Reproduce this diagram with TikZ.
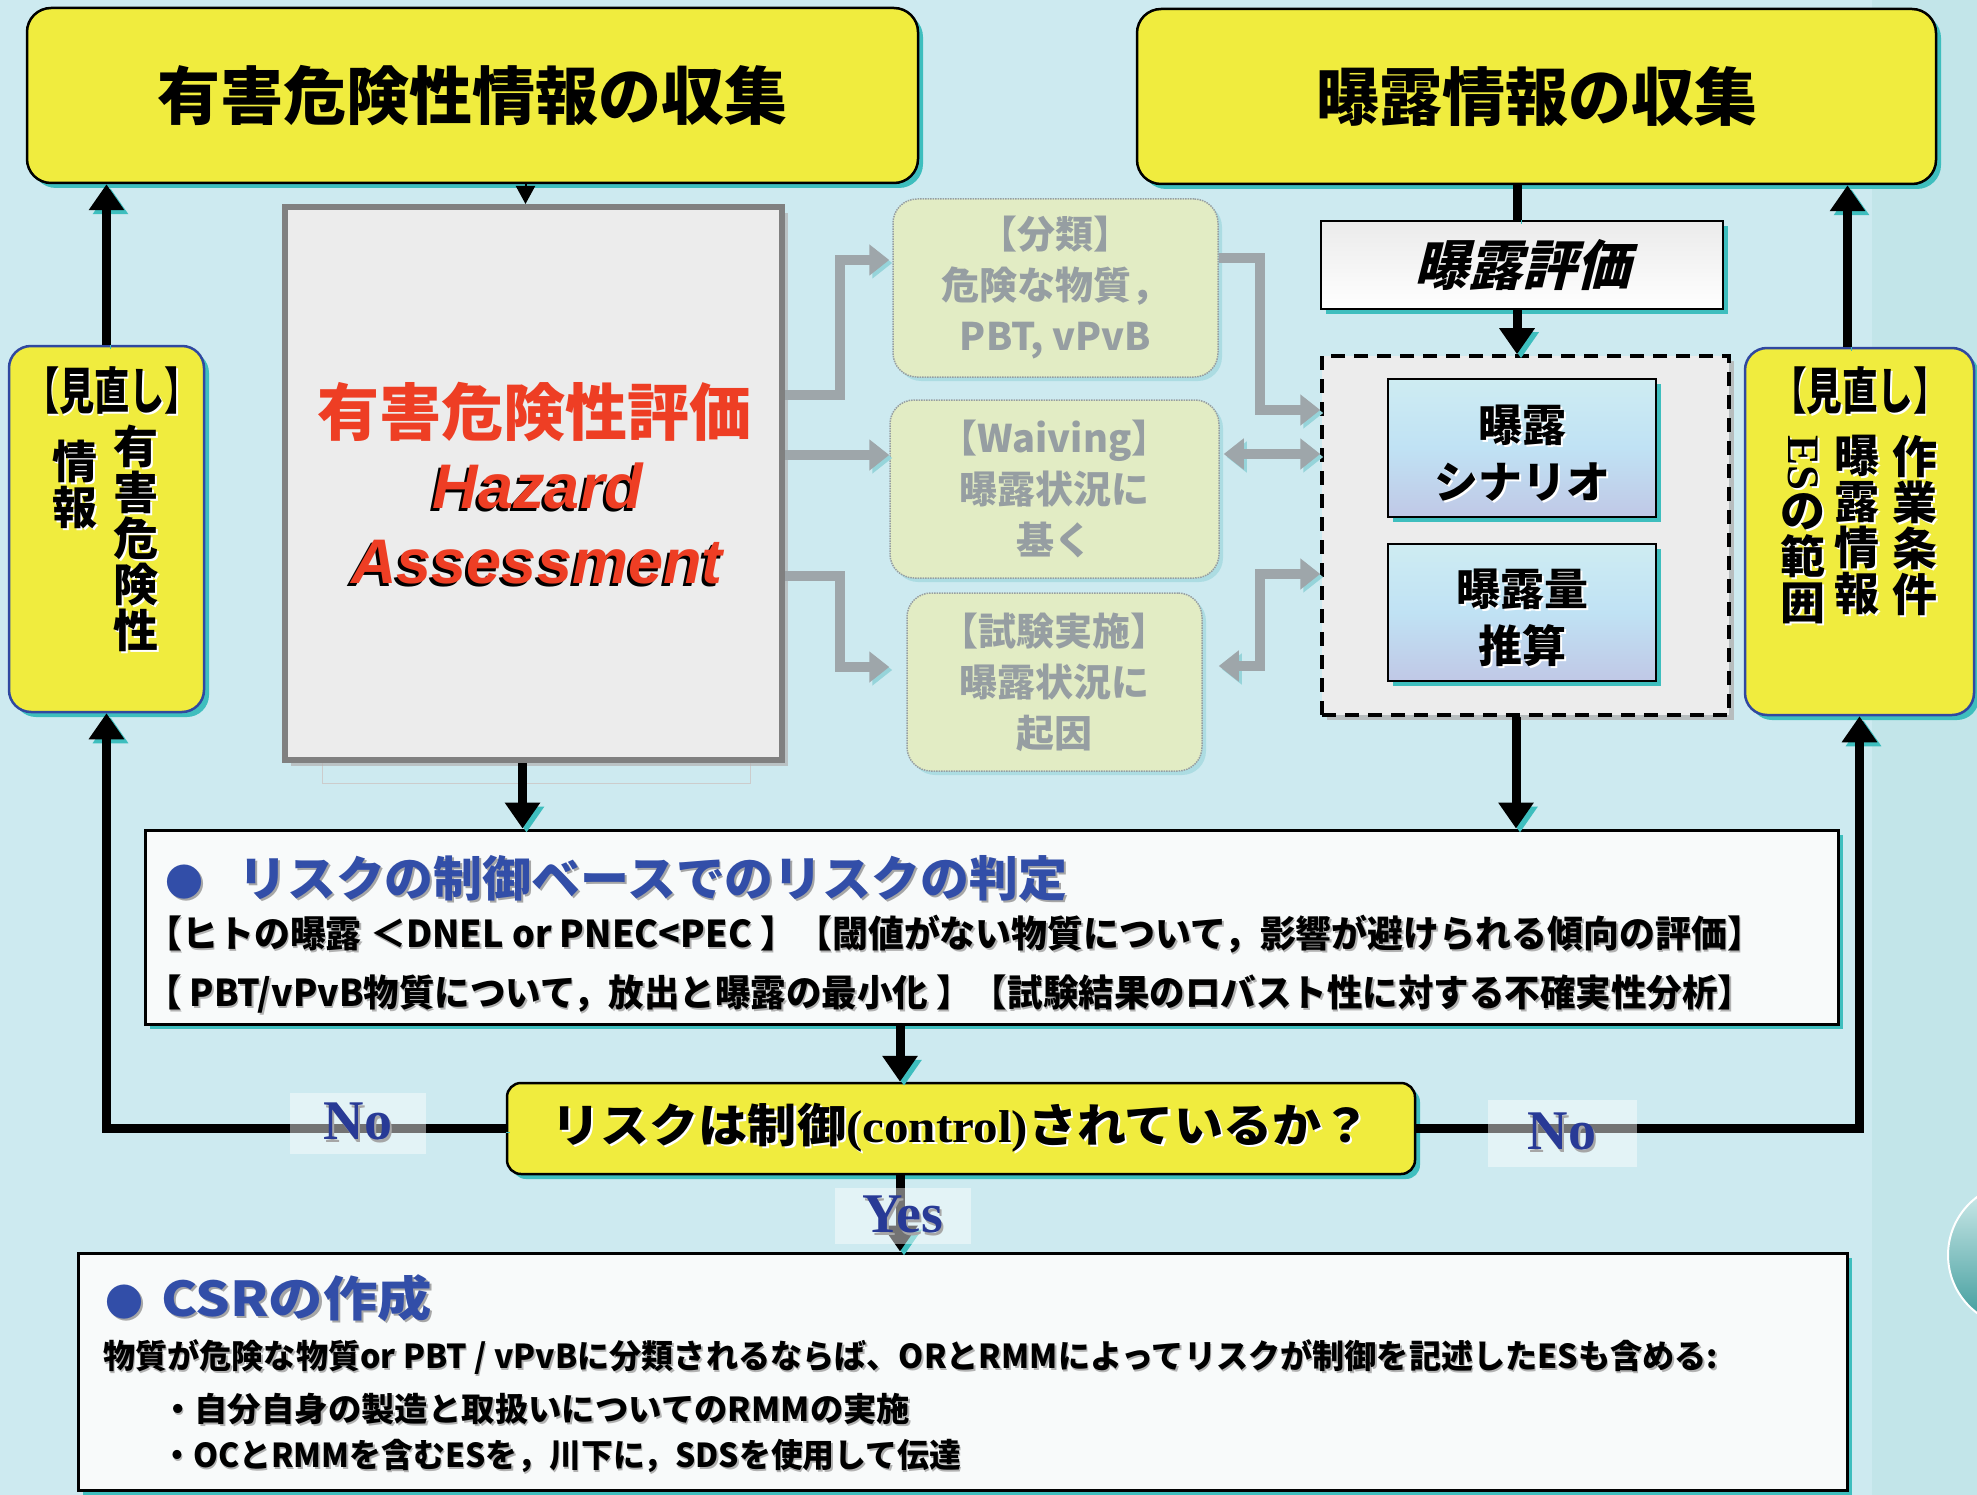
\documentclass[tikz,border=0pt]{standalone}
\usepackage{fontspec}
\usepackage{graphicx}
\newfontfamily\jp{Noto Sans CJK JP}
\newfontfamily\jpsl{Noto Sans CJK JP}[FakeSlant=0.25]
\newfontfamily\serifb{Liberation Serif}
\newfontfamily\sansb{Liberation Sans}
\usetikzlibrary{arrows.meta,shadows}
\newcommand\fs[2]{\fontsize{#1}{#2}\selectfont}
\newcommand\shd[4]{\leavevmode\rlap{\kern#2\raisebox{-#3}{\textcolor{#1}{#4}}}#4}
\newcommand\ws[1]{\shd{white}{2pt}{2pt}{#1}}
\definecolor{bg}{RGB}{205,234,240}
\definecolor{strip}{RGB}{194,229,233}
\definecolor{ylw}{RGB}{240,236,62}
\definecolor{tealsh}{RGB}{62,190,190}
\definecolor{hzfill}{RGB}{236,236,236}
\definecolor{hzline}{RGB}{128,128,128}
\definecolor{redt}{RGB}{238,62,36}
\definecolor{bluet}{RGB}{50,78,168}
\definecolor{bluelbl}{RGB}{40,58,150}
\definecolor{revline}{RGB}{48,72,160}
\definecolor{fadefill}{RGB}{226,236,196}
\definecolor{fadeline}{RGB}{150,158,162}
\definecolor{fadetext}{RGB}{150,158,162}
\definecolor{fadearr}{RGB}{158,166,170}
\definecolor{fadesh}{RGB}{150,212,218}
\definecolor{boxw}{RGB}{248,250,250}
\definecolor{scentop}{RGB}{206,236,242}
\definecolor{scenmid}{RGB}{192,226,244}
\definecolor{scenbot}{RGB}{192,200,230}
\definecolor{dashfill}{RGB}{236,236,236}
\definecolor{circtop}{RGB}{214,238,238}
\definecolor{circbot}{RGB}{56,152,152}
\tikzset{
  tealshadow/.style={drop shadow={shadow xshift=5pt, shadow yshift=-5pt, fill=tealsh, opacity=1}},
  ybox/.style={draw=black, line width=2.5pt, fill=ylw, rounded corners=24pt, inner sep=0pt, tealshadow},
  decbox/.style={draw=black, line width=2.5pt, fill=ylw, rounded corners=14pt, inner sep=0pt, tealshadow},
  revbox/.style={draw=revline, line width=2.5pt, fill=ylw, rounded corners=22pt, inner sep=0pt, tealshadow},
  hzbox/.style={draw=hzline, line width=6pt, fill=hzfill, inner sep=0pt,
     drop shadow={shadow xshift=6pt, shadow yshift=-6pt, fill=gray!60, opacity=0.7}},
  fadebox/.style={draw=fadeline, densely dotted, line width=1.5pt, fill=fadefill, rounded corners=24pt,
     inner sep=0pt, text=fadetext, align=center, font=\jp\bfseries\fs{38}{51},
     drop shadow={shadow xshift=4pt, shadow yshift=-4pt, fill=fadesh, opacity=0.6}},
  evalbox/.style={draw=black, line width=2.5pt, top color=gray!16, bottom color=white, inner sep=0pt, tealshadow},
  dashbox/.style={draw=black, dash pattern=on 14pt off 9pt, line width=3.5pt, fill=dashfill, inner sep=0pt,
     drop shadow={shadow xshift=5pt, shadow yshift=-5pt, fill=gray!60, opacity=0.8}},
  scenbox/.style={draw=black, line width=2.5pt, top color=scentop, bottom color=scenbot, middle color=scenmid,
     inner sep=0pt, align=center, font=\jp\bfseries\fs{44}{57}, tealshadow},
  wbox/.style={draw=black, line width=3pt, fill=boxw, inner sep=0pt, tealshadow},
  revtitle/.style={inner sep=0pt, font=\jp\bfseries\fs{50}{52}},
  vtxt/.style={inner sep=0pt, align=center, anchor=north},
  jtxt/.style={inner sep=0pt, anchor=west, font=\jp\bfseries\fs{37}{40}},
  redtxt/.style={inner sep=0pt, text=redt, anchor=base},
  lbl/.style={fill=white, fill opacity=0.45, text opacity=1, text=bluelbl, inner sep=0pt,
     font=\serifb\bfseries\fs{56}{60}},
  bigline/.style={line width=9pt, draw=black,
     preaction={draw=tealsh, transform canvas={shift={(4pt,-4pt)}}}},
  bigarrow/.style={bigline, -{Triangle[width=34pt,length=26pt]}},
  fadeline/.style={line width=10pt, draw=fadearr,
     preaction={draw=fadesh, transform canvas={shift={(3pt,-3pt)}}}},
  fadearrow/.style={fadeline, -{Triangle[width=30pt,length=20pt]}},
  fadedbl/.style={fadeline, {Triangle[width=30pt,length=20pt]}-{Triangle[width=30pt,length=20pt]}},
}
\begin{document}
\begin{tikzpicture}[x=1pt,y=-1pt]
\useasboundingbox (0,0) rectangle (1977,1495);
\clip (0,0) rectangle (1977,1495);
% background
\fill[bg] (0,0) rectangle (1977,1495);
\fill[strip] (1872,0) rectangle (1977,1495);
\shade[top color=circtop, bottom color=circbot, draw=white, line width=2pt] (2020.5,1255) circle (72.5);
\draw[gray!40, line width=1pt] (322,761) |- (750,783) -- (750,761);

% top boxes
\node[ybox, minimum width=891pt, minimum height=175pt, font=\jp\bfseries\fs{63}{70}] (tl) at (472.5,95.5) {有害危険性情報の収集};
\node[ybox, minimum width=799pt, minimum height=175pt, font=\jp\bfseries\fs{63}{70}] (tr) at (1536.5,96.5) {曝露情報の収集};

% left review box
\node[revbox, minimum width=195pt, minimum height=366pt] (revL) at (106.5,529) {};
\node[revtitle] (revLt) at (112,392) {\resizebox{176pt}{\height}{\ws{【見直し】}}};
\node[vtxt, font=\jp\bfseries\fs{45}{44.6}] (revLa) at (136,425) {\ws{有}\\\ws{害}\\\ws{危}\\\ws{険}\\\ws{性}};
\node[vtxt, font=\jp\bfseries\fs{45}{44.6}] (revLb) at (75,440) {\ws{情}\\\ws{報}};

% right review box
\node[revbox, minimum width=229pt, minimum height=367pt] (revR) at (1859.5,531.5) {};
\node[revtitle] (revRt) at (1860,392) {\resizebox{178pt}{\height}{\ws{【見直し】}}};
\node[vtxt, font=\jp\bfseries\fs{45}{46}] (revRa) at (1915,435) {\ws{作}\\\ws{業}\\\ws{条}\\\ws{件}};
\node[vtxt, font=\jp\bfseries\fs{45}{46}] (revRb) at (1857,435) {\ws{曝}\\\ws{露}\\\ws{情}\\\ws{報}};
\node[vtxt, font=\jp\bfseries\fs{45}{46}] (revRc) at (1803,435) {\ws{\rotatebox[origin=c]{-90}{\serifb ES}}\\\ws{の}\\\ws{範}\\\ws{囲}};

% hazard assessment
\node[hzbox, minimum width=497pt, minimum height=553pt] (haz) at (533.5,483.5) {};
\node[redtxt, font=\jp\bfseries\fs{62}{70}] (hazjp) at (534,435) {有害危険性評価};
\node[redtxt, font=\sansb\bfseries\itshape\fs{63}{70}] (hazen1) at (538,508) {\shd{black}{-3pt}{3pt}{Hazard}};
\node[redtxt, font=\sansb\bfseries\itshape\fs{63}{70}] (hazen2) at (537,583) {\shd{black}{-3pt}{3pt}{Assessment}};

% faded middle boxes
\node[fadebox, minimum width=325pt, minimum height=178pt] (boxA) at (1055.5,288) {【分類】\\危険な物質，\\PBT, vPvB};
\node[fadebox, minimum width=329pt, minimum height=178pt] (boxB) at (1054.5,489) {【Waiving】\\曝露状況に\\基く};
\node[fadebox, minimum width=295pt, minimum height=178pt] (boxC) at (1054.5,682) {【試験実施】\\曝露状況に\\起因};

% exposure side
\node[evalbox, minimum width=402pt, minimum height=88pt, font=\jpsl\bfseries\fs{54}{60}] (eval) at (1522,265) {曝露評価};
\node[dashbox, minimum width=407pt, minimum height=359pt] (dash) at (1525.5,535.5) {};
\node[scenbox, minimum width=268pt, minimum height=138pt] (scen) at (1522,448) {\rule{0pt}{49pt}\ws{曝露}\\\ws{シナリオ}};
\node[scenbox, minimum width=268pt, minimum height=137pt] (qty) at (1522,612.5) {\rule{0pt}{49pt}\ws{曝露量}\\\ws{推算}};

% risk box
\node[wbox, minimum width=1693pt, minimum height=194pt] (risk) at (991.5,927) {};
\node[jtxt, text=bluet, font=\jp\bfseries\fs{48}{50}] (rtitle) at (165,879) {\shd{black!35}{2pt}{2pt}{{\fs{38}{40}●}\hspace{35pt}\resizebox{829pt}{\height}{リスクの制御ベースでのリスクの判定}}};
\node[jtxt] (rl2) at (146,935) {\resizebox{1617pt}{\height}{\shd{black!30}{1.5pt}{1.5pt}{【ヒトの曝露 ＜DNEL or PNEC<PEC 】【閾値がない物質について，影響が避けられる傾向の評価】}}};
\node[jtxt] (rl3) at (146,995) {\resizebox{1607pt}{\height}{\shd{black!30}{1.5pt}{1.5pt}{【 PBT/vPvB物質について，放出と曝露の最小化 】【試験結果のロバスト性に対する不確実性分析】}}};

% decision
\node[decbox, minimum width=908pt, minimum height=91pt, font=\jp\bfseries\fs{46}{50}] (dec) at (961,1128.5) {\resizebox{819pt}{\height}{\ws{リスクは制御{\serifb (control)}されているか？}}};

% CSR
\node[wbox, minimum width=1769pt, minimum height=237pt] (csr) at (962.5,1371.5) {};
\node[jtxt, text=bluet, font=\jp\bfseries\fs{48}{50}] (ctitle) at (105,1299) {\shd{black!35}{2pt}{2pt}{{\fs{38}{40}●}\hspace{18pt}\resizebox{271pt}{\height}{CSRの作成}}};
\node[jtxt, font=\jp\bfseries\fs{33}{36}] (cl1) at (103,1358) {\resizebox{1615pt}{\height}{\shd{black!30}{1.5pt}{1.5pt}{物質が危険な物質or PBT / vPvBに分類されるならば、ORとRMMによってリスクが制御を記述したESも含める:}}};
\node[jtxt, font=\jp\bfseries\fs{33}{36}] (cl2) at (161,1410) {\resizebox{749pt}{\height}{\shd{black!30}{1.5pt}{1.5pt}{・自分自身の製造と取扱いについてのRMMの実施}}};
\node[jtxt, font=\jp\bfseries\fs{33}{36}] (cl3) at (161,1457) {\resizebox{800pt}{\height}{\shd{black!30}{1.5pt}{1.5pt}{・OCとRMMを含むESを，川下に，SDSを使用して伝達}}};

% faded arrows
\draw[fadearrow] ([yshift=89pt]haz.east) -| (840,260) -- ([yshift=28pt,xshift=-3pt]boxA.west);
\draw[fadearrow] ([yshift=28.5pt]haz.east) -- ([yshift=34pt]boxB.west);
\draw[fadearrow] ([yshift=-92.5pt]haz.east) -| (840,667) -- ([yshift=15pt,xshift=-17pt]boxC.west);
\draw[fadearrow] ([yshift=30pt]boxA.east) -| (1260,410) -- ([yshift=125.5pt]dash.west);
\draw[fadedbl] ([yshift=35pt,xshift=4pt]boxB.east) -- ([yshift=81.5pt]dash.west);
\draw[fadedbl] ([yshift=-38.5pt]dash.west) -| (1260,666) -- ([yshift=16pt,xshift=16pt]boxC.east);

% main arrows
\draw[bigarrow] (revL.north) -- (revL.north |- tl.south);
\draw[bigarrow] ([xshift=-12pt]revR.north) -- ([xshift=-12pt]revR.north |- tr.south);
\draw[line width=2pt, -{Triangle[width=19pt,length=18pt]}] ([xshift=-8pt]haz.north |- tl.south) -- ([xshift=-8pt]haz.north);
\draw[bigarrow] ([xshift=-11pt]haz.south) -- ([xshift=-11pt]haz.south |- risk.north);
\draw[bigline] ([xshift=-5pt]eval.north |- tr.south) -- ([xshift=-5pt]eval.north);
\draw[bigarrow] ([xshift=-5pt]eval.south) -- ([xshift=-5pt]eval.south |- dash.north);
\draw[bigarrow] ([xshift=-9.5pt]dash.south) -- ([xshift=-9.5pt]dash.south |- risk.north);
\draw[bigarrow] ([xshift=-61pt]dec.north |- risk.south) -- ([xshift=-61pt]dec.north);
\draw[bigarrow] (dec.west) -- (dec.west -| revL.south) -- (revL.south);
\draw[bigarrow] (dec.east) -- (dec.east -| revR.south) -- (revR.south);
\draw[bigarrow] ([xshift=-61pt]dec.south) -- ([xshift=-61pt]dec.south |- csr.north);

% labels
\node[lbl, minimum width=136pt, minimum height=61pt] (noL) at (358,1123) {\shd{black!35}{2pt}{3pt}{No}};
\node[lbl, minimum width=149pt, minimum height=67pt] (noR) at (1562,1133) {\shd{black!35}{2pt}{3pt}{No}};
\node[lbl, minimum width=136pt, minimum height=56pt] (yes) at (903,1216) {\shd{black!35}{2pt}{3pt}{Yes}};
\end{tikzpicture}
\end{document}
